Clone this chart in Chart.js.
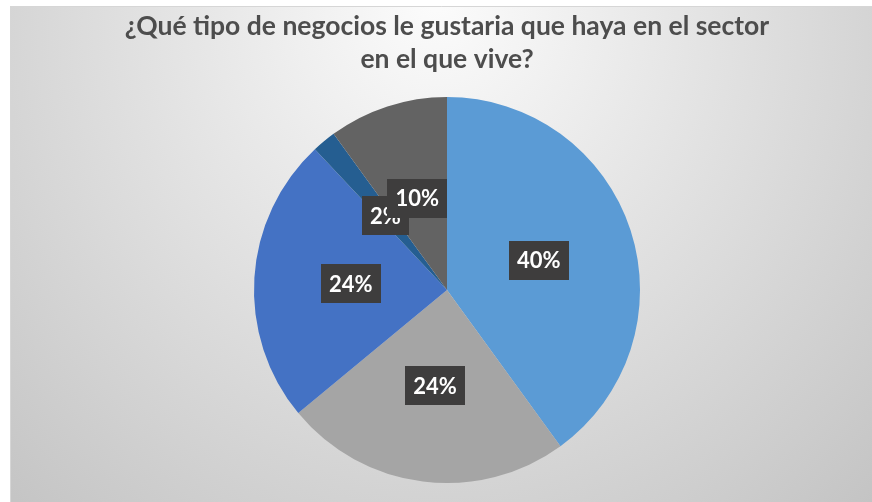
<!DOCTYPE html>
<html>
<head>
<meta charset="utf-8">
<script src="https://cdn.jsdelivr.net/npm/chart.js@4/dist/chart.umd.min.js"></script>
<style>
  html, body { margin: 0; padding: 0; background: #fff; }
</style>
</head>
<body>
<canvas id="canvas1" width="872" height="502"></canvas>
<script>
var labels = ["Opción 1", "Opción 2", "Opción 3", "Opción 4", "Opción 5"];
var values = [40, 24, 24, 2, 10];
var colors = ["#5B9BD5", "#A5A5A5", "#4472C4", "#255E91", "#636363"];
var titleLines = ["¿Qué tipo de negocios le gustaria que haya en el sector", "en el que vive?"];

// soft grey panel behind the chart, lighter towards the top
var panelBackground = {
  id: 'panelBackground',
  beforeDraw: function (chart) {
    var ctx = chart.ctx;
    ctx.save();
    ctx.fillStyle = "#ffffff";
    ctx.fillRect(0, 0, chart.width, chart.height);
    var g = ctx.createRadialGradient(436, 0, 10, 436, 60, 620);
    g.addColorStop(0, "#fbfbfb");
    g.addColorStop(0.45, "#e2e2e2");
    g.addColorStop(1, "#c4c4c4");
    ctx.fillStyle = g;
    ctx.fillRect(10, 6, chart.width - 10, chart.height - 6);
    ctx.strokeStyle = "#d6d6d6";
    ctx.lineWidth = 1;
    ctx.beginPath();
    ctx.moveTo(10.5, chart.height);
    ctx.lineTo(10.5, 6.5);
    ctx.lineTo(chart.width, 6.5);
    ctx.stroke();
    ctx.restore();
  }
};

// percentage labels in dark boxes
var sliceLabels = {
  id: 'sliceLabels',
  afterDatasetsDraw: function (chart) {
    var ctx = chart.ctx;
    var meta = chart.getDatasetMeta(0);
    var total = values.reduce(function (a, b) { return a + b; }, 0);
    ctx.save();
    ctx.font = "bold 22px Lato, 'Open Sans', sans-serif";
    ctx.textAlign = "center";
    ctx.textBaseline = "middle";
    meta.data.forEach(function (arc, i) {
      var p = arc.tooltipPosition();
      var txt = Math.round(values[i] / total * 100) + "%";
      var w = ctx.measureText(txt).width + 16;
      var h = 39;
      ctx.fillStyle = "#3e3d3d";
      ctx.fillRect(Math.round(p.x - w / 2), Math.round(p.y - h / 2), Math.round(w), h);
      ctx.fillStyle = "#ffffff";
      ctx.fillText(txt, p.x, p.y + 1);
    });
    ctx.restore();
  }
};

new Chart(document.getElementById("canvas1"), {
  type: 'pie',
  data: {
    labels: labels,
    datasets: [{
      data: values,
      backgroundColor: colors,
      borderWidth: 0
    }]
  },
  options: {
    responsive: false,
    animation: false,
    layout: {
      padding: { left: 22, right: 0, top: 0, bottom: 19 }
    },
    plugins: {
      legend: { display: false },
      tooltip: { enabled: false },
      title: {
        display: true,
        text: titleLines,
        color: "#4d4d4d",
        font: { family: "Lato, 'Open Sans', sans-serif", size: 26.5, weight: 'bold', lineHeight: 1.245 },
        padding: { top: 10, bottom: 21 }
      }
    }
  },
  plugins: [panelBackground, sliceLabels]
});
</script>
</body>
</html>
